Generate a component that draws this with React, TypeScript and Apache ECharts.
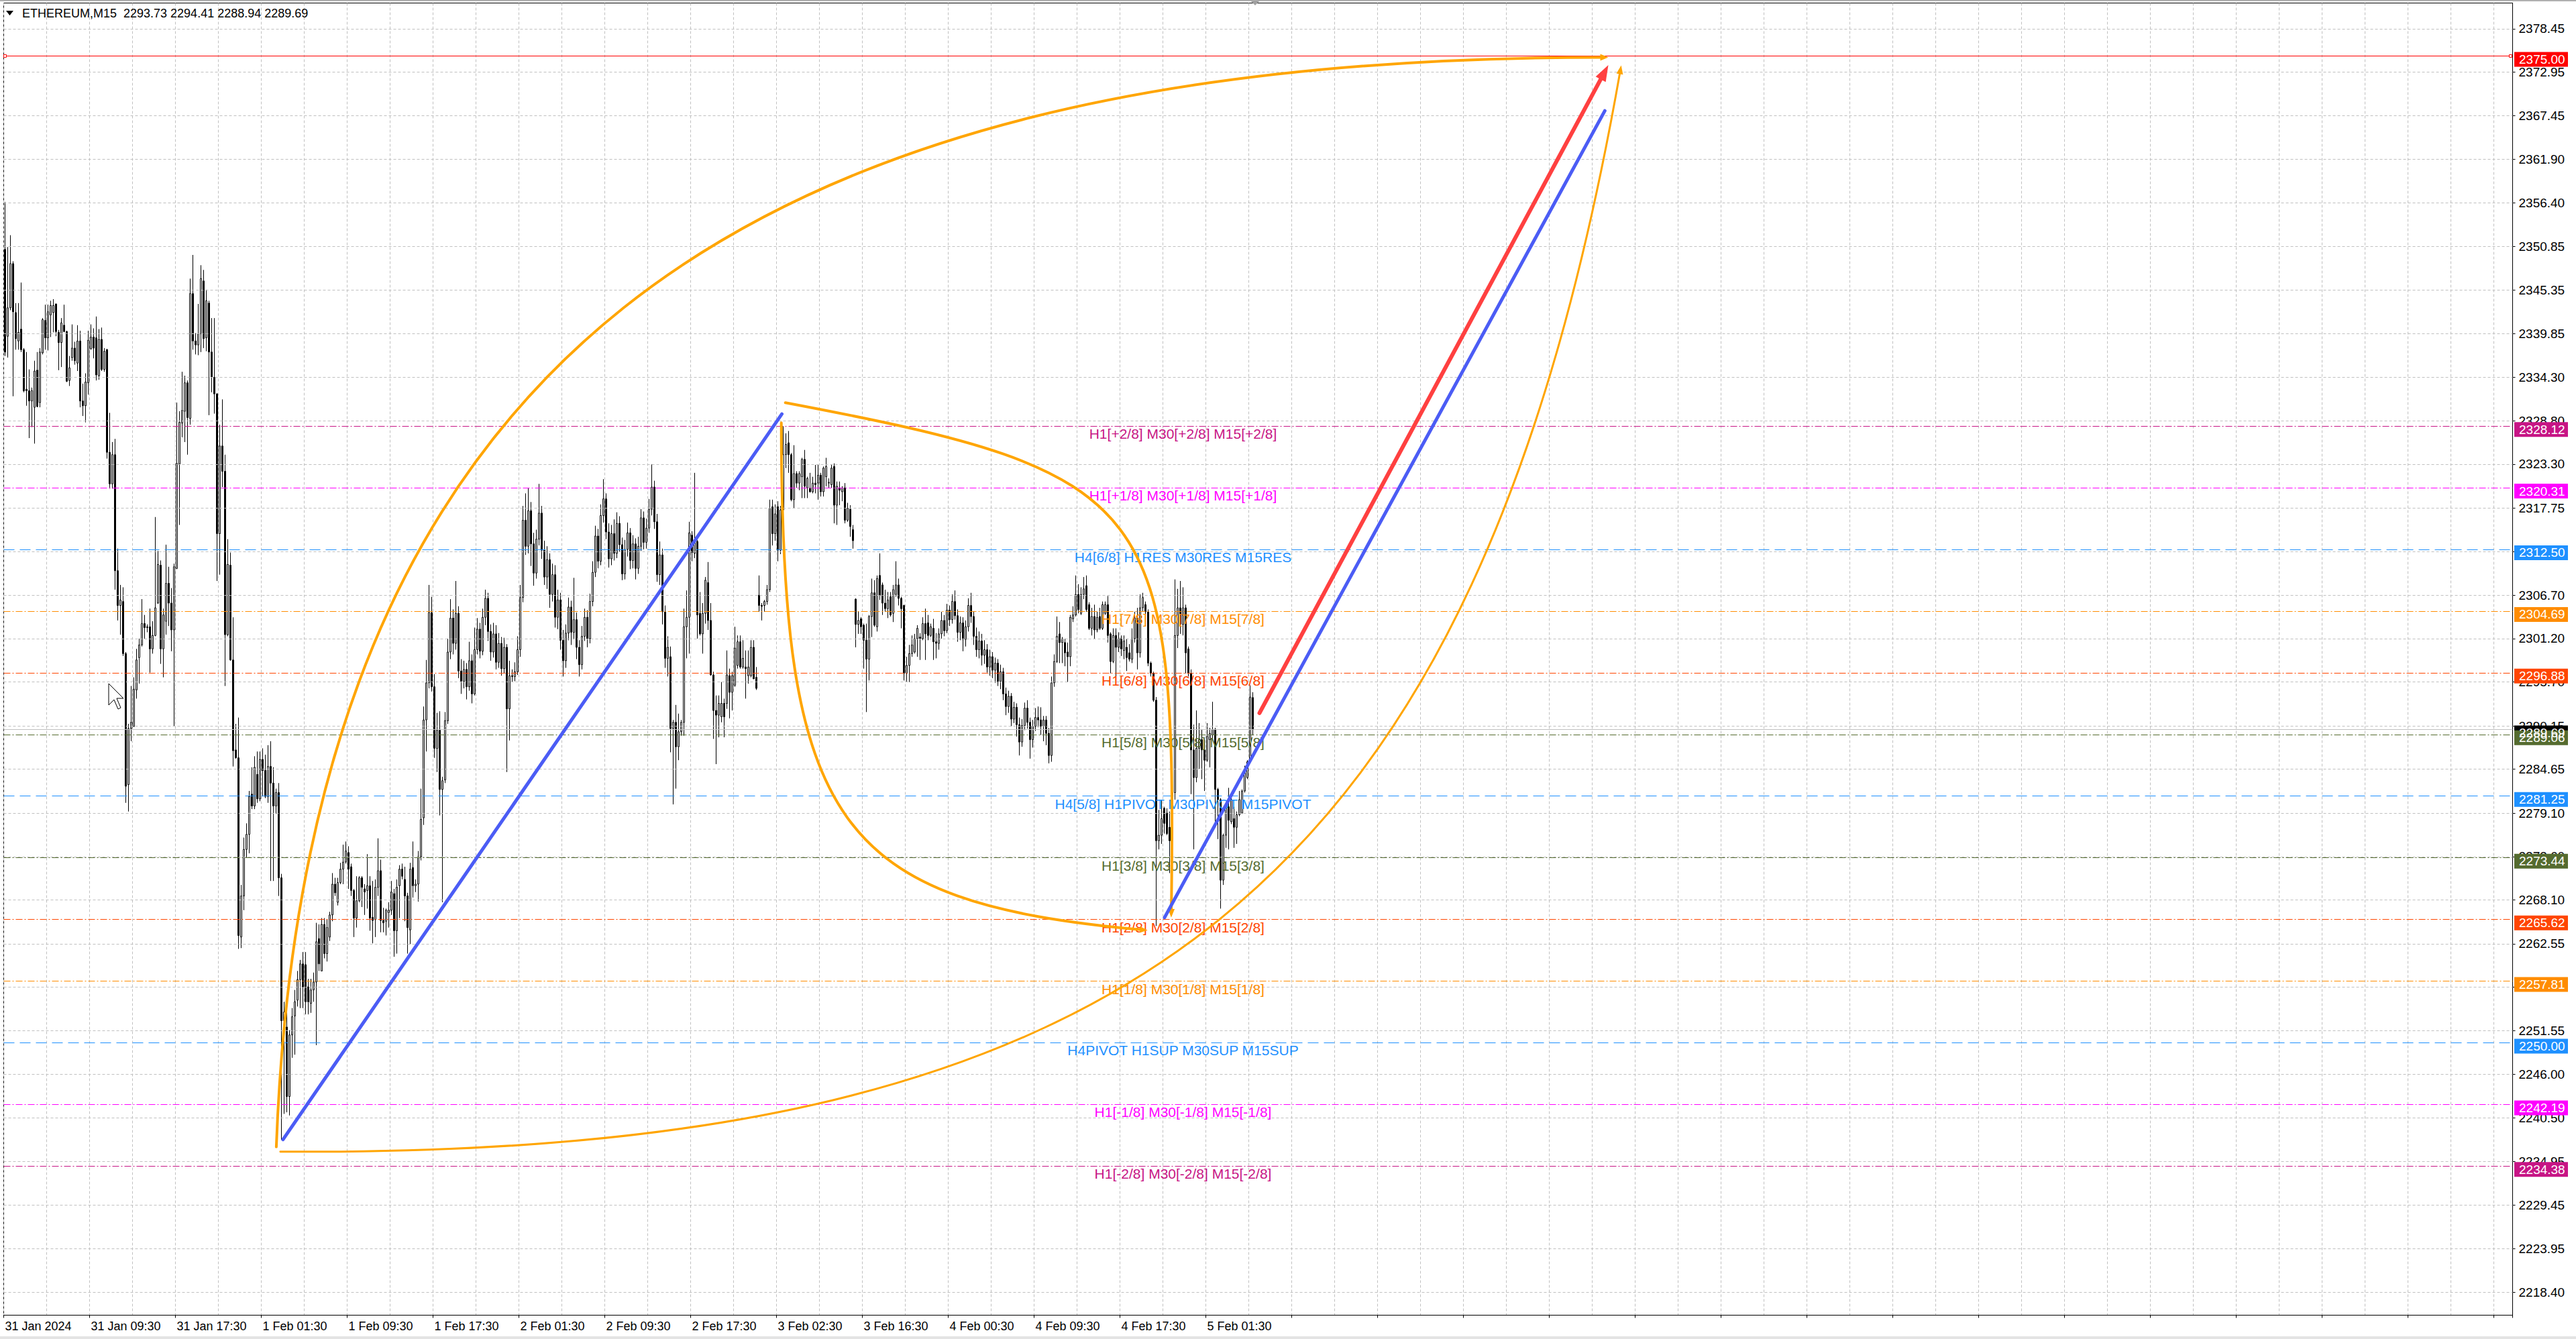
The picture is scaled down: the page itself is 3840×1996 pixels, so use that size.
import React, { useEffect, useRef } from 'react';
import * as echarts from 'echarts';

const FONT = '"Liberation Sans", Arial, sans-serif';
const CHART_W = 3840;
const CHART_H = 1996;
const GRID = { left: 5.5, right: 94.5, top: 4.5, bottom: 35.5 };
const SLOT_COUNT = 935;
const Y_MIN = 2215.5;
const Y_MAX = 2381.71;

const chartTitle = 'ETHEREUM,M15';
const xTickLabels = ['31 Jan 2024', '31 Jan 09:30', '31 Jan 17:30', '1 Feb 01:30', '1 Feb 09:30', '1 Feb 17:30', '2 Feb 01:30', '2 Feb 09:30', '2 Feb 17:30', '3 Feb 02:30', '3 Feb 16:30', '4 Feb 00:30', '4 Feb 09:30', '4 Feb 17:30', '5 Feb 01:30'];
const X_LABEL_STEP = 32;
const X_GRID_STEP = 16;
const yTickValues = [2378.45, 2372.95, 2367.45, 2361.9, 2356.4, 2350.85, 2345.35, 2339.85, 2334.3, 2328.8, 2323.3, 2317.75, 2312.25, 2306.7, 2301.2, 2295.7, 2290.15, 2284.65, 2279.1, 2273.6, 2268.1, 2262.55, 2257.05, 2251.55, 2246.0, 2240.5, 2234.95, 2229.45, 2223.95, 2218.4];

const levelPrices = [2328.12, 2320.31, 2312.5, 2304.69, 2296.88, 2289.06, 2281.25, 2273.44, 2265.62, 2257.81, 2250.0, 2242.19, 2234.38];
const levelColors = ['#C71585', '#FF00FF', '#1E90FF', '#FF8C00', '#FF4500', '#556B2F', '#1E90FF', '#556B2F', '#FF4500', '#FF8C00', '#1E90FF', '#FF00FF', '#C71585'];
const levelDashed = [false, false, true, false, false, false, true, false, false, false, true, false, false];
const levelTexts = ['H1[+2/8] M30[+2/8] M15[+2/8]', 'H1[+1/8] M30[+1/8] M15[+1/8]', 'H4[6/8] H1RES M30RES M15RES', 'H1[7/8] M30[7/8] M15[7/8]', 'H1[6/8] M30[6/8] M15[6/8]', 'H1[5/8] M30[5/8] M15[5/8]', 'H4[5/8] H1PIVOT M30PIVOT M15PIVOT', 'H1[3/8] M30[3/8] M15[3/8]', 'H1[2/8] M30[2/8] M15[2/8]', 'H1[1/8] M30[1/8] M15[1/8]', 'H4PIVOT H1SUP M30SUP M15SUP', 'H1[-1/8] M30[-1/8] M15[-1/8]', 'H1[-2/8] M30[-2/8] M15[-2/8]'];
const levelTextBar = 439;
const targetPrice = 2375.0;
const bidPrice = 2289.69;

// [open, high, low, close]
const barsJan31 = [
  [2350.5, 2356.5, 2337.0, 2337.5], [2339.5, 2350.8, 2336.8, 2343.1], [2343.1, 2352.3, 2342.8, 2348.7], [2348.7, 2349.0, 2331.9, 2342.6], [2342.5, 2343.7, 2337.8, 2339.2],
  [2338.9, 2343.7, 2337.8, 2340.0], [2340.4, 2346.3, 2337.5, 2337.8], [2337.8, 2338.0, 2332.4, 2332.6], [2332.8, 2337.5, 2330.7, 2332.6], [2332.6, 2335.3, 2326.6, 2331.3],
  [2331.3, 2333.0, 2328.0, 2332.6], [2330.5, 2336.4, 2325.9, 2335.1], [2335.2, 2337.5, 2330.5, 2330.6], [2331.1, 2338.0, 2330.5, 2337.5], [2337.4, 2341.8, 2337.2, 2341.6],
  [2341.5, 2343.5, 2337.8, 2339.3], [2339.3, 2343.5, 2337.7, 2342.6], [2342.2, 2344.0, 2339.4, 2343.4], [2342.5, 2344.2, 2340.0, 2343.4], [2343.6, 2343.6, 2339.5, 2340.1],
  [2340.0, 2340.3, 2335.2, 2338.7], [2338.7, 2341.8, 2335.6, 2341.2], [2340.9, 2343.5, 2340.0, 2340.1], [2340.1, 2340.2, 2333.7, 2333.8], [2333.9, 2337.0, 2333.2, 2335.5],
  [2336.8, 2341.0, 2336.4, 2338.0], [2338.0, 2338.8, 2335.9, 2336.4], [2336.1, 2340.9, 2335.1, 2338.9], [2338.9, 2340.2, 2330.5, 2331.3], [2331.3, 2333.5, 2329.4, 2330.7],
  [2330.7, 2334.8, 2328.6, 2333.7], [2333.6, 2340.2, 2332.1, 2339.0], [2337.9, 2341.0, 2337.8, 2339.4], [2339.4, 2340.5, 2336.7, 2338.0], [2339.3, 2342.0, 2333.9, 2334.6],
  [2334.5, 2340.4, 2334.0, 2339.1], [2339.1, 2340.6, 2335.1, 2335.3], [2335.3, 2338.0, 2335.0, 2337.6], [2337.8, 2337.9, 2324.0, 2324.8], [2324.8, 2329.8, 2320.2, 2320.8],
  [2320.8, 2326.1, 2320.2, 2324.5], [2324.5, 2326.5, 2307.4, 2309.8], [2309.8, 2312.6, 2303.5, 2305.4], [2305.4, 2308.0, 2301.7, 2306.1], [2305.9, 2307.7, 2299.0, 2299.3],
  [2299.3, 2299.5, 2280.4, 2282.5], [2282.7, 2290.4, 2279.3, 2289.8], [2289.8, 2295.2, 2288.2, 2290.6], [2290.1, 2296.3, 2290.0, 2294.8], [2294.7, 2299.9, 2293.6, 2298.5],
  [2298.8, 2301.2, 2295.5, 2300.4], [2300.4, 2306.2, 2300.2, 2303.1], [2303.1, 2304.2, 2301.2, 2302.6], [2302.6, 2303.0, 2302.0, 2302.7], [2302.7, 2305.0, 2296.9, 2299.9],
  [2299.9, 2303.4, 2299.3, 2301.6], [2301.6, 2316.6, 2301.5, 2305.1], [2305.7, 2312.3, 2305.6, 2310.6], [2310.5, 2311.1, 2298.0, 2299.9], [2299.9, 2305.0, 2296.3, 2304.2],
  [2303.4, 2313.1, 2301.7, 2308.2], [2308.2, 2310.3, 2302.8, 2305.7], [2305.7, 2307.6, 2299.6, 2302.3], [2302.3, 2310.7, 2290.1, 2310.3], [2310.1, 2331.1, 2310.0, 2323.4],
  [2323.3, 2330.0, 2315.6, 2328.6], [2328.5, 2335.0, 2326.7, 2330.1], [2330.0, 2334.5, 2326.1, 2333.6], [2333.6, 2333.9, 2324.5, 2329.2], [2329.1, 2346.8, 2328.3, 2344.9],
  [2344.9, 2349.8, 2337.8, 2338.9], [2338.9, 2339.9, 2337.2, 2338.4], [2338.4, 2343.6, 2337.1, 2339.8], [2339.8, 2348.5, 2337.5, 2346.8], [2346.5, 2347.9, 2338.0, 2339.2],
  [2339.3, 2345.4, 2337.6, 2344.0], [2343.7, 2344.0, 2329.5, 2337.5], [2337.5, 2341.8, 2332.4, 2334.3], [2334.3, 2341.8, 2329.7, 2332.2], [2332.2, 2332.3, 2308.5, 2314.5],
  [2314.5, 2328.3, 2309.3, 2325.6], [2325.6, 2331.5, 2320.4, 2322.4], [2322.4, 2324.5, 2295.2, 2301.7], [2301.7, 2313.8, 2301.5, 2310.6], [2310.5, 2312.1, 2298.4, 2298.5],
  [2298.5, 2303.9, 2285.0, 2287.0], [2287.1, 2290.4, 2286.0, 2286.1], [2286.1, 2291.2, 2261.9, 2263.6], [2263.4, 2270.0, 2262.0, 2268.6], [2268.6, 2276.0, 2266.8, 2274.5]
];

const barsFeb1 = [
  [2274.5, 2277.8, 2273.5, 2276.4], [2276.4, 2281.9, 2274.0, 2281.2], [2281.5, 2284.9, 2279.6, 2280.0], [2280.0, 2286.3, 2279.6, 2284.9], [2284.0, 2286.9, 2280.4, 2280.9],
  [2280.9, 2286.9, 2280.6, 2285.9], [2285.9, 2287.3, 2281.2, 2284.5], [2284.5, 2286.5, 2281.0, 2281.2], [2281.2, 2287.7, 2280.4, 2285.0], [2285.0, 2288.2, 2270.5, 2282.9],
  [2282.9, 2284.9, 2270.5, 2280.0], [2280.0, 2282.2, 2279.0, 2281.7], [2281.7, 2282.9, 2268.6, 2270.9], [2270.9, 2271.4, 2237.7, 2252.8], [2252.8, 2255.2, 2241.0, 2253.9],
  [2252.0, 2255.2, 2241.2, 2243.2], [2243.2, 2251.6, 2240.8, 2251.0], [2251.0, 2254.4, 2248.1, 2253.3], [2253.4, 2256.7, 2248.5, 2255.2], [2255.4, 2259.1, 2254.6, 2258.0],
  [2258.0, 2260.5, 2254.4, 2260.0], [2260.0, 2261.5, 2254.4, 2257.1], [2259.9, 2261.5, 2253.6, 2255.2], [2257.1, 2258.1, 2253.6, 2255.2], [2255.0, 2258.1, 2253.8, 2256.7],
  [2256.7, 2258.9, 2255.2, 2257.7], [2257.7, 2265.2, 2249.7, 2262.8], [2263.2, 2265.0, 2259.1, 2260.0], [2259.1, 2265.8, 2259.1, 2265.0], [2265.0, 2265.8, 2260.7, 2261.3],
  [2261.3, 2265.6, 2260.3, 2264.6], [2263.4, 2266.6, 2262.9, 2266.2], [2266.2, 2271.5, 2265.4, 2270.1], [2270.1, 2270.9, 2268.6, 2269.0], [2267.8, 2270.9, 2267.4, 2270.3],
  [2270.3, 2272.8, 2270.1, 2272.0], [2272.0, 2275.1, 2270.1, 2272.9], [2272.9, 2275.5, 2272.7, 2274.3], [2274.1, 2274.9, 2269.5, 2272.0], [2272.3, 2272.7, 2268.6, 2269.3],
  [2269.3, 2269.5, 2263.4, 2265.8], [2265.8, 2271.1, 2264.6, 2268.0], [2268.0, 2271.1, 2267.8, 2270.9], [2270.9, 2271.1, 2267.2, 2269.7], [2269.5, 2270.1, 2266.2, 2269.1],
  [2269.3, 2273.9, 2267.0, 2269.9], [2269.9, 2271.1, 2264.2, 2265.8], [2265.9, 2270.5, 2262.6, 2265.5], [2265.6, 2270.7, 2263.4, 2269.7], [2269.7, 2275.9, 2268.6, 2271.8],
  [2271.8, 2273.2, 2264.0, 2265.5], [2265.5, 2267.1, 2264.0, 2265.2], [2265.4, 2267.0, 2263.6, 2266.8], [2266.5, 2267.8, 2264.6, 2266.8], [2266.8, 2270.5, 2266.2, 2269.1],
  [2268.9, 2269.5, 2260.9, 2264.2], [2264.2, 2270.7, 2261.3, 2269.7], [2269.9, 2272.5, 2265.8, 2272.0], [2272.0, 2272.7, 2270.7, 2271.1], [2270.7, 2272.3, 2265.4, 2268.6],
  [2268.6, 2269.0, 2261.3, 2264.6], [2264.3, 2272.8, 2262.5, 2272.0], [2272.2, 2275.5, 2268.4, 2269.9], [2269.9, 2270.7, 2269.1, 2270.1], [2270.1, 2274.3, 2267.9, 2273.6],
  [2273.6, 2282.2, 2273.1, 2278.3], [2278.5, 2292.6, 2277.6, 2290.9], [2290.9, 2298.5, 2286.9, 2295.6], [2295.6, 2308.0, 2294.9, 2304.5], [2304.5, 2306.5, 2294.5, 2295.1],
  [2295.1, 2296.7, 2286.1, 2287.3], [2287.3, 2291.8, 2284.3, 2289.6], [2289.6, 2292.0, 2278.8, 2282.1], [2282.1, 2283.7, 2267.8, 2283.2], [2283.3, 2291.9, 2282.9, 2290.8],
  [2290.8, 2301.2, 2290.4, 2299.5], [2299.5, 2306.2, 2298.6, 2303.8], [2303.8, 2304.9, 2299.2, 2300.6], [2300.6, 2308.5, 2299.8, 2304.4], [2304.4, 2305.3, 2296.2, 2297.1],
  [2297.1, 2298.6, 2294.2, 2295.8], [2295.8, 2298.4, 2294.9, 2297.3], [2297.3, 2298.1, 2293.5, 2295.1], [2295.1, 2300.8, 2294.6, 2298.4], [2298.4, 2299.2, 2293.0, 2294.2],
  [2294.2, 2302.6, 2294.0, 2299.8], [2299.8, 2303.8, 2299.2, 2302.4], [2302.4, 2303.2, 2298.7, 2299.6], [2299.6, 2305.0, 2299.1, 2303.9], [2303.9, 2307.4, 2302.9, 2306.3],
  [2306.3, 2307.0, 2300.9, 2302.1], [2302.1, 2303.0, 2298.4, 2299.5], [2299.5, 2303.2, 2298.8, 2301.8], [2301.8, 2302.9, 2297.3, 2298.2], [2298.2, 2301.9, 2297.5, 2300.6],
  [2300.6, 2301.4, 2296.5, 2297.4]
];

const barsFeb2 = [
  [2297.4, 2301.3, 2296.8, 2300.1], [2300.1, 2300.5, 2284.3, 2292.3], [2292.3, 2298.4, 2288.3, 2296.5], [2296.5, 2297.3, 2295.7, 2296.4], [2296.4, 2298.2, 2295.8, 2297.0],
  [2297.0, 2301.5, 2296.6, 2299.8], [2299.8, 2308.0, 2298.9, 2306.4], [2306.4, 2318.0, 2305.8, 2316.2], [2316.2, 2319.6, 2311.8, 2312.9], [2312.9, 2320.3, 2312.0, 2317.4],
  [2317.4, 2318.5, 2310.4, 2313.2], [2313.2, 2314.6, 2307.9, 2309.5], [2309.5, 2315.0, 2308.8, 2313.8], [2313.8, 2320.8, 2313.0, 2317.1], [2317.1, 2318.0, 2311.3, 2312.4],
  [2312.4, 2313.6, 2308.0, 2309.0], [2309.0, 2312.9, 2307.5, 2311.2], [2311.2, 2312.0, 2305.1, 2306.8], [2306.8, 2310.7, 2305.9, 2309.3], [2309.3, 2310.5, 2302.6, 2303.9],
  [2303.9, 2307.4, 2302.4, 2306.1], [2306.1, 2307.0, 2299.8, 2301.0], [2301.0, 2302.3, 2296.4, 2298.4], [2298.4, 2303.0, 2297.5, 2301.9], [2301.9, 2306.4, 2301.0, 2305.2],
  [2305.2, 2306.0, 2300.4, 2302.0], [2302.0, 2308.9, 2301.1, 2303.6], [2303.6, 2304.5, 2298.6, 2300.1], [2300.1, 2301.0, 2296.4, 2297.9], [2297.9, 2302.8, 2297.3, 2301.5],
  [2301.5, 2305.0, 2300.9, 2303.9], [2303.9, 2304.8, 2300.1, 2301.2], [2301.2, 2306.9, 2300.6, 2305.9], [2305.9, 2311.0, 2305.3, 2309.6], [2309.6, 2315.5, 2309.0, 2314.2],
  [2314.2, 2315.1, 2310.1, 2311.0], [2311.0, 2318.2, 2310.5, 2316.8], [2316.8, 2321.4, 2315.9, 2318.9], [2318.9, 2319.6, 2313.8, 2314.7], [2314.7, 2315.8, 2310.2, 2311.3],
  [2311.3, 2315.6, 2310.5, 2314.5], [2314.5, 2316.3, 2311.1, 2312.0], [2312.0, 2317.2, 2311.4, 2315.8], [2315.8, 2316.7, 2312.2, 2313.1], [2313.1, 2314.0, 2308.6, 2309.4],
  [2309.4, 2313.7, 2308.7, 2312.5], [2312.5, 2315.9, 2311.6, 2314.6], [2314.6, 2315.2, 2310.0, 2311.1], [2311.1, 2314.3, 2310.1, 2313.2], [2313.2, 2313.9, 2308.7, 2310.1],
  [2310.1, 2314.1, 2309.4, 2312.9], [2312.9, 2317.6, 2312.3, 2316.5], [2316.5, 2317.3, 2312.5, 2313.4], [2313.4, 2316.4, 2312.6, 2315.2], [2315.2, 2318.9, 2314.6, 2317.6],
  [2317.6, 2323.3, 2316.8, 2320.4], [2320.4, 2321.2, 2315.1, 2316.0], [2316.0, 2317.0, 2308.4, 2309.3], [2309.3, 2313.5, 2308.0, 2311.8], [2311.8, 2312.6, 2303.0, 2304.6],
  [2304.6, 2305.4, 2297.5, 2298.7], [2298.7, 2301.5, 2296.4, 2300.1], [2298.9, 2300.2, 2286.8, 2289.8], [2289.8, 2290.9, 2280.2, 2290.6], [2290.6, 2292.8, 2282.2, 2287.5],
  [2287.5, 2291.7, 2285.8, 2289.4], [2289.4, 2290.9, 2288.9, 2290.6], [2290.6, 2305.0, 2288.9, 2302.7], [2302.7, 2307.3, 2298.7, 2303.9], [2303.9, 2316.0, 2299.3, 2314.6],
  [2314.3, 2314.8, 2311.0, 2312.1], [2312.0, 2322.2, 2311.4, 2313.5], [2313.5, 2313.7, 2301.2, 2304.2], [2304.4, 2307.1, 2301.6, 2301.8], [2301.8, 2305.7, 2299.3, 2304.4],
  [2304.4, 2309.0, 2303.1, 2308.6], [2308.3, 2310.9, 2302.3, 2303.5], [2303.5, 2305.7, 2296.5, 2296.6], [2296.6, 2297.0, 2288.5, 2292.1], [2292.1, 2294.0, 2285.3, 2291.5],
  [2291.5, 2294.0, 2288.7, 2293.0], [2291.3, 2295.7, 2290.6, 2293.0], [2293.0, 2293.6, 2288.7, 2291.3], [2293.0, 2299.7, 2292.3, 2296.6], [2296.5, 2297.4, 2291.1, 2294.4],
  [2294.4, 2297.0, 2292.1, 2296.5], [2295.3, 2302.7, 2295.1, 2300.0], [2297.8, 2301.6, 2297.4, 2300.8], [2300.8, 2301.6, 2297.4, 2297.6], [2297.6, 2301.0, 2297.4, 2298.7],
  [2297.6, 2299.7, 2293.6, 2297.4], [2296.5, 2299.7, 2295.5, 2297.6], [2296.5, 2301.0, 2296.3, 2300.1], [2300.1, 2301.0, 2296.1, 2296.1], [2296.3, 2297.6, 2294.7, 2294.9],
  [2306.7, 2309.2, 2304.6, 2305.4]
];

const barsFeb3 = [
  [2305.4, 2305.7, 2303.5, 2305.3], [2305.4, 2306.1, 2304.6, 2305.9], [2305.9, 2308.0, 2305.5, 2307.4], [2307.4, 2318.8, 2307.1, 2317.7], [2317.9, 2318.8, 2313.0, 2314.5],
  [2314.5, 2318.2, 2313.6, 2317.0], [2317.9, 2318.6, 2311.0, 2312.4], [2312.4, 2318.0, 2311.9, 2317.5], [2317.5, 2328.1, 2317.3, 2324.5], [2324.5, 2327.2, 2322.8, 2325.8],
  [2326.0, 2327.5, 2322.2, 2324.5], [2324.5, 2324.7, 2318.6, 2318.8], [2318.8, 2325.7, 2317.7, 2322.1], [2322.1, 2322.4, 2320.3, 2320.9], [2320.9, 2322.4, 2320.0, 2322.1],
  [2321.7, 2324.1, 2319.0, 2323.9], [2323.9, 2325.1, 2319.0, 2320.5], [2320.3, 2321.7, 2319.0, 2321.5], [2320.3, 2322.2, 2319.7, 2319.8], [2319.8, 2321.7, 2319.6, 2320.9],
  [2320.9, 2323.2, 2319.6, 2320.7], [2320.9, 2323.2, 2318.8, 2321.9], [2321.9, 2322.2, 2319.2, 2319.8], [2319.8, 2323.0, 2319.2, 2322.8], [2321.7, 2324.1, 2320.5, 2323.0],
  [2320.9, 2321.5, 2320.3, 2321.0], [2320.7, 2323.2, 2320.3, 2322.8], [2323.0, 2323.4, 2315.8, 2318.1], [2318.1, 2321.1, 2315.6, 2320.5], [2320.3, 2321.1, 2318.1, 2320.0],
  [2319.8, 2320.5, 2318.6, 2320.3], [2320.3, 2320.9, 2315.8, 2316.2], [2316.2, 2318.4, 2316.0, 2317.7], [2317.6, 2318.1, 2314.1, 2315.4], [2315.0, 2315.6, 2312.6, 2313.6],
  [2306.2, 2306.3, 2300.1, 2303.0], [2303.0, 2304.6, 2301.8, 2303.5], [2303.7, 2303.9, 2301.8, 2302.7], [2302.9, 2303.1, 2297.4, 2301.0], [2301.0, 2303.1, 2291.9, 2298.6],
  [2298.6, 2304.2, 2295.9, 2304.0], [2304.0, 2308.8, 2301.4, 2307.0], [2307.0, 2308.6, 2302.7, 2302.9], [2302.7, 2309.2, 2302.1, 2308.8], [2309.2, 2312.0, 2306.1, 2306.7],
  [2308.0, 2308.3, 2304.2, 2305.7], [2305.7, 2307.4, 2304.6, 2305.0], [2305.0, 2307.1, 2303.8, 2306.1], [2306.5, 2307.1, 2304.0, 2304.2], [2304.4, 2308.0, 2303.3, 2307.4],
  [2306.8, 2311.0, 2306.5, 2308.0], [2308.0, 2308.8, 2305.4, 2306.3], [2306.3, 2306.5, 2302.5, 2305.0], [2305.4, 2305.5, 2295.9, 2296.8], [2296.8, 2298.9, 2295.7, 2297.8],
  [2297.8, 2300.4, 2295.7, 2299.3], [2299.3, 2301.6, 2298.9, 2300.4], [2299.5, 2301.8, 2299.3, 2301.2], [2301.2, 2302.9, 2298.9, 2302.5], [2301.4, 2301.9, 2298.5, 2301.2],
  [2301.2, 2303.9, 2301.0, 2303.1], [2303.1, 2305.0, 2298.5, 2301.8], [2303.2, 2304.2, 2301.0, 2301.6], [2301.6, 2303.1, 2301.4, 2302.7], [2302.5, 2303.7, 2298.5, 2300.8],
  [2300.8, 2301.9, 2298.7, 2300.6], [2300.6, 2302.5, 2299.8, 2301.8], [2301.8, 2304.6, 2301.2, 2303.5]
];

const barsFeb4 = [
  [2303.5, 2304.2, 2301.5, 2302.2], [2302.2, 2305.6, 2301.9, 2304.8], [2304.8, 2305.4, 2302.8, 2303.6], [2303.6, 2306.8, 2303.1, 2305.9], [2305.9, 2307.3, 2303.6, 2304.1],
  [2304.1, 2304.9, 2300.8, 2302.0], [2302.0, 2304.0, 2301.0, 2303.2], [2303.2, 2303.9, 2299.6, 2301.1], [2301.1, 2303.5, 2300.2, 2302.7], [2302.7, 2306.3, 2302.1, 2305.4],
  [2305.4, 2307.0, 2303.2, 2304.0], [2304.0, 2304.6, 2300.4, 2301.5], [2301.5, 2302.6, 2298.9, 2299.8], [2299.8, 2302.1, 2298.7, 2300.9], [2300.9, 2301.8, 2297.8, 2299.1],
  [2299.1, 2301.0, 2298.0, 2299.8], [2299.8, 2300.5, 2296.9, 2297.6], [2297.6, 2299.8, 2296.5, 2298.9], [2298.9, 2299.5, 2296.2, 2297.2], [2297.2, 2298.8, 2295.6, 2298.1],
  [2298.1, 2298.6, 2295.2, 2295.8], [2295.8, 2297.9, 2294.8, 2297.0], [2297.0, 2297.5, 2293.4, 2294.2], [2294.2, 2295.0, 2291.5, 2292.6], [2292.6, 2294.6, 2291.8, 2293.9],
  [2293.9, 2294.3, 2290.1, 2291.0], [2291.0, 2293.2, 2290.5, 2292.5], [2292.5, 2293.0, 2288.8, 2290.3], [2290.3, 2291.2, 2286.4, 2288.1], [2288.1, 2291.0, 2287.5, 2290.2],
  [2290.2, 2293.1, 2289.6, 2292.4], [2292.4, 2293.4, 2289.8, 2290.6], [2290.6, 2291.2, 2286.0, 2288.4], [2288.4, 2290.9, 2287.4, 2290.1], [2290.1, 2292.4, 2289.5, 2291.2],
  [2291.2, 2292.6, 2290.0, 2290.9], [2290.9, 2292.5, 2289.0, 2290.1], [2290.1, 2291.4, 2288.2, 2290.9], [2290.9, 2291.4, 2287.7, 2289.2], [2289.2, 2289.9, 2285.4, 2286.4],
  [2286.4, 2296.4, 2285.6, 2295.6], [2295.6, 2299.2, 2295.1, 2298.3], [2298.3, 2304.0, 2298.1, 2301.5], [2301.8, 2303.3, 2298.1, 2300.7], [2300.7, 2301.4, 2298.1, 2301.2],
  [2300.7, 2301.2, 2297.7, 2299.4], [2299.5, 2300.7, 2295.7, 2298.9], [2298.9, 2304.2, 2297.7, 2303.9], [2303.7, 2305.3, 2303.3, 2304.2], [2304.2, 2309.2, 2304.0, 2306.8],
  [2306.8, 2308.1, 2304.4, 2304.9], [2304.4, 2307.7, 2304.2, 2306.8], [2306.8, 2309.0, 2306.2, 2307.5], [2307.9, 2309.2, 2304.6, 2304.9], [2305.5, 2305.8, 2302.3, 2302.5],
  [2302.5, 2305.1, 2301.6, 2304.0], [2304.0, 2305.5, 2301.2, 2302.3], [2302.3, 2304.6, 2302.0, 2303.9], [2304.0, 2305.1, 2302.3, 2302.5], [2302.5, 2305.9, 2302.3, 2305.5],
  [2304.4, 2305.9, 2304.2, 2305.5], [2305.5, 2306.6, 2300.7, 2301.6], [2301.8, 2302.0, 2296.8, 2298.3], [2298.3, 2302.5, 2298.1, 2301.6], [2301.6, 2302.5, 2296.4, 2300.1],
  [2300.1, 2302.0, 2299.5, 2301.2], [2301.2, 2301.6, 2299.0, 2299.9], [2299.7, 2301.6, 2298.6, 2300.9], [2300.1, 2301.2, 2297.1, 2298.8], [2299.4, 2300.5, 2298.3, 2298.6],
  [2298.6, 2302.5, 2298.1, 2301.2], [2301.2, 2304.6, 2300.7, 2303.8], [2303.8, 2305.1, 2297.3, 2299.4], [2299.4, 2306.8, 2298.8, 2305.1], [2305.1, 2307.0, 2304.6, 2306.4],
  [2305.5, 2305.9, 2303.3, 2304.6], [2304.6, 2304.9, 2297.7, 2298.1], [2298.1, 2298.3, 2296.4, 2296.8], [2296.8, 2297.0, 2293.2, 2293.4], [2293.4, 2293.8, 2264.8, 2275.6],
  [2275.6, 2279.5, 2274.5, 2276.3], [2276.3, 2280.8, 2275.2, 2278.4], [2279.7, 2279.9, 2276.5, 2277.8], [2279.1, 2279.7, 2276.3, 2276.5], [2277.3, 2279.3, 2271.5, 2275.6],
  [2275.6, 2282.1, 2275.2, 2281.7], [2281.7, 2308.7, 2280.8, 2301.6], [2301.6, 2307.5, 2300.0, 2305.1], [2305.1, 2308.5, 2301.8, 2303.0], [2303.0, 2307.7, 2301.6, 2305.1],
  [2305.1, 2305.5, 2296.8, 2299.4], [2299.9, 2300.2, 2296.4, 2296.8], [2296.8, 2297.3, 2281.5, 2287.1], [2287.1, 2290.3, 2274.5, 2283.6], [2283.6, 2292.1, 2283.0, 2287.3],
  [2287.3, 2290.5, 2284.7, 2288.4], [2288.4, 2289.7, 2283.4, 2287.1], [2287.1, 2288.4, 2281.9, 2285.8]
];

const barsFeb5 = [
  [2285.8, 2290.5, 2285.6, 2288.8], [2288.4, 2289.9, 2284.9, 2289.2], [2289.0, 2293.2, 2288.4, 2289.7], [2289.7, 2289.9, 2277.8, 2282.1], [2282.1, 2282.3, 2275.8, 2280.8],
  [2280.8, 2281.0, 2267.0, 2270.6], [2270.6, 2276.5, 2270.0, 2276.3], [2276.3, 2280.4, 2274.7, 2279.9], [2279.9, 2282.3, 2274.5, 2278.2], [2278.0, 2281.7, 2277.7, 2280.8],
  [2278.4, 2279.9, 2274.7, 2277.3], [2277.3, 2279.3, 2275.2, 2278.9], [2278.9, 2281.9, 2278.7, 2280.8], [2279.1, 2282.1, 2279.1, 2281.9], [2281.9, 2285.1, 2281.7, 2284.3],
  [2283.6, 2285.8, 2283.4, 2285.6], [2285.6, 2295.3, 2285.4, 2293.8], [2293.73, 2294.41, 2288.94, 2289.69]
];

// Drawn objects, anchored as [bar index, price]
const blueTrend1 = [[103.6, 2237.75], [289.5, 2329.65]];
const blueTrend2 = [[432.1, 2265.86], [596.2, 2368.06]];
const redArrow = [[467.5, 2291.77], [597.5, 2373.84]];
const arcTopOuter = [[101.1, 2236.82], [111.9, 2336.19], [270.5, 2374.83], [597.5, 2374.83]];
const arcBottomOuter = [[102.6, 2236.22], [423.6, 2235.37], [548.6, 2269.94], [602.3, 2373.81]];
const arcCupRight = [[290.8, 2331.09], [429.3, 2322.17], [436.8, 2318.78], [434.6, 2265.86]];
const arcCupLeft = [[289.3, 2328.54], [289.3, 2277.41], [309.8, 2267.82], [425.8, 2264.25]];

const allBars = [...barsJan31, ...barsFeb1, ...barsFeb2, ...barsFeb3, ...barsFeb4, ...barsFeb5];
const categories = Array.from({ length: SLOT_COUNT }, (_, i) => String(i));

function buildOption() {
  const dashDot = [10, 3, 2, 3];
  const dashed = [16, 8];
  const levelLines: any[] = levelPrices.map((p, k) => ({
    yAxis: p,
    lineStyle: { color: levelColors[k], width: 1, type: levelDashed[k] ? dashed : dashDot },
  }));
  levelLines.push({ yAxis: targetPrice, lineStyle: { color: '#FF0000', width: 1, type: 'solid' } });
  const bidLine = [{ yAxis: bidPrice, lineStyle: { color: '#C0C0C0', width: 1, type: 'solid' } }];
  return {
    animation: false,
    backgroundColor: '#ffffff',
    grid: { ...GRID, show: true, borderColor: '#000000', borderWidth: 1, backgroundColor: '#ffffff' },
    xAxis: {
      type: 'category',
      data: categories,
      boundaryGap: true,
      axisLine: { show: true, lineStyle: { color: '#000000', width: 1 } },
      axisTick: { show: true, interval: (i: number) => i % X_LABEL_STEP === 0, length: 4, lineStyle: { color: '#000000' } },
      axisLabel: {
        show: true,
        interval: (i: number) => i % X_LABEL_STEP === 0 && i / X_LABEL_STEP < xTickLabels.length,
        formatter: (_v: string, i: number) => xTickLabels[Math.round(i / X_LABEL_STEP)] ?? '',
        align: 'left',
        margin: 7,
        fontSize: 18,
        color: '#000000',
        fontFamily: FONT,
      },
      splitLine: { show: true, interval: (i: number) => i % X_GRID_STEP === 0, lineStyle: { color: '#C0C0C0', type: [4, 3], width: 1 } },
    },
    yAxis: {
      type: 'value',
      position: 'right',
      min: Y_MIN,
      max: Y_MAX,
      scale: true,
      axisLine: { show: true, lineStyle: { color: '#000000' } },
      axisTick: { show: true, customValues: yTickValues, length: 4, lineStyle: { color: '#000000' } },
      axisLabel: { show: true, customValues: yTickValues, formatter: (v: number) => v.toFixed(2), margin: 9, fontSize: 19, color: '#000000', fontFamily: FONT },
      splitLine: { show: false },
    },
    series: [
      {
        type: 'line', data: [], z: 1, silent: true,
        markLine: { silent: true, symbol: ['none', 'none'], label: { show: false }, animation: false,
          lineStyle: { color: '#C0C0C0', type: [4, 3], width: 1 },
          data: yTickValues.map((v) => ({ yAxis: v })) },
      },
      {
        type: 'line', data: [], z: 1, silent: true,
        markLine: { silent: true, symbol: ['none', 'none'], label: { show: false }, animation: false, data: bidLine },
      },
      {
        type: 'candlestick',
        z: 2,
        barWidth: 3,
        large: false,
        silent: true,
        data: allBars.map(([o, h, l, c]) => [o, c, l, h]),
        itemStyle: { color: '#FFFFFF', color0: '#000000', borderColor: '#000000', borderColor0: '#000000', borderColorDoji: '#000000', borderWidth: 1 },
      },
      {
        type: 'line', data: [], z: 3, silent: true,
        markLine: { silent: true, symbol: ['none', 'none'], label: { show: false }, animation: false, data: levelLines },
      },
    ],
  };
}

function textEl(x: number, y: number, text: string, font: string, fill: string, align: string, z: number) {
  return {
    type: 'text', x, y, z, silent: true,
    style: { text, font, fill, align, verticalAlign: 'middle', textAlign: align, textVerticalAlign: 'middle' },
  };
}

export default function App() {
  const ref = useRef<HTMLDivElement>(null);
  useEffect(() => {
    if (!ref.current) return;
    document.body.style.margin = '0';
    const chart = echarts.init(ref.current, null, { renderer: 'svg', width: CHART_W, height: CHART_H });
    chart.setOption(buildOption() as any);

    const xa = chart.convertToPixel({ xAxisIndex: 0 }, 0) as number;
    const xb = chart.convertToPixel({ xAxisIndex: 0 }, 100) as number;
    const xPx = (b: number) => xa + ((xb - xa) * b) / 100;
    const yPx = (p: number) => chart.convertToPixel({ yAxisIndex: 0 }, p) as number;
    const pt = (d: number[]) => [xPx(d[0]), yPx(d[1])];
    const plotRight = CHART_W - GRID.right;
    const els: any[] = [];

    // header
    const last = allBars[allBars.length - 1];
    els.push({ type: 'polygon', z: 50, silent: true, shape: { points: [[9, 16], [20, 16], [14.5, 23]] }, style: { fill: '#000000' } });
    els.push(textEl(33, 20, `${chartTitle}  ${last[0].toFixed(2)} ${last[1].toFixed(2)} ${last[2].toFixed(2)} ${last[3].toFixed(2)}`, `18px ${FONT}`, '#000000', 'left', 50));
    // chart shift marker
    els.push({ type: 'polygon', z: 50, silent: true, shape: { points: [[1864, 1], [1878, 1], [1871, 8]] }, style: { fill: '#A0A0A0' } });

    // target line end markers
    const yT = yPx(targetPrice);
    els.push({ type: 'rect', z: 20, silent: true, shape: { x: GRID.left, y: yT - 2, width: 4, height: 4 }, style: { fill: '#FFFFFF', stroke: '#FF0000', lineWidth: 1 } });
    els.push({ type: 'rect', z: 20, silent: true, shape: { x: plotRight - 5, y: yT - 2, width: 4, height: 4 }, style: { fill: '#FFFFFF', stroke: '#FF0000', lineWidth: 1 } });

    // level annotations
    const tx = xPx(levelTextBar);
    levelPrices.forEach((p, k) => {
      els.push(textEl(tx, yPx(p) + 11.5, levelTexts[k], `21px ${FONT}`, levelColors[k], 'center', 25));
    });

    // price boxes on the scale
    const boxes: [number, string][] = [[targetPrice, '#FF0000'], [bidPrice, '#000000']];
    levelPrices.forEach((p, k) => boxes.push([p, levelColors[k]]));
    boxes.forEach(([p, c]) => {
      const y = yPx(p);
      els.push({ type: 'rect', z: 60, silent: true, shape: { x: plotRight + 2.5, y: y - 6, width: 80, height: 22 }, style: { fill: c } });
      els.push(textEl(plotRight + 9.5, y + 5, p.toFixed(2), `19px ${FONT}`, '#FFFFFF', 'left', 61));
    });

    // arrowheads and curves
    const head = (tip: number[], from: number[], len: number, half: number, color: string) => {
      const dx = tip[0] - from[0];
      const dy = tip[1] - from[1];
      const d = Math.hypot(dx, dy) || 1;
      const ux = dx / d, uy = dy / d;
      const bx = tip[0] - ux * len, by = tip[1] - uy * len;
      return {
        base: [tip[0] - ux * len * 0.7, tip[1] - uy * len * 0.7],
        el: { type: 'polygon', z: 41, silent: true, shape: { points: [tip, [bx - uy * half, by + ux * half], [bx + uy * half, by - ux * half]] }, style: { fill: color } },
      };
    };
    const orange = '#FFA500';
    const curve = (pts: number[][], width: number, len: number, half: number) => {
      const [p0, c1, c2, p3] = pts.map(pt);
      const h = head(p3, c2, len, half, orange);
      els.push({ type: 'bezierCurve', z: 40, silent: true,
        shape: { x1: p0[0], y1: p0[1], cpx1: c1[0], cpy1: c1[1], cpx2: c2[0], cpy2: c2[1], x2: h.base[0], y2: h.base[1] },
        style: { stroke: orange, lineWidth: width, fill: null, lineCap: 'round' } });
      els.push(h.el);
    };
    curve(arcTopOuter, 4, 12, 5);
    curve(arcBottomOuter, 3, 13, 5);
    curve(arcCupRight, 4, 13, 5);
    curve(arcCupLeft, 4, 11, 4.5);

    const blue = '#4B5CF5';
    [blueTrend1, blueTrend2].forEach((ln) => {
      const a = pt(ln[0]);
      const b = pt(ln[1]);
      els.push({ type: 'line', z: 42, silent: true, shape: { x1: a[0], y1: a[1], x2: b[0], y2: b[1] }, style: { stroke: blue, lineWidth: 5, lineCap: 'round' } });
    });
    {
      const a = pt(redArrow[0]);
      const b = pt(redArrow[1]);
      const h = head(b, a, 24, 8.5, '#FF4040');
      els.push({ type: 'line', z: 42, silent: true, shape: { x1: a[0], y1: a[1], x2: h.base[0], y2: h.base[1] }, style: { stroke: '#FF4040', lineWidth: 6, lineCap: 'round' } });
      els.push({ ...h.el, z: 43 });
    }

    // mouse cursor
    const cx = 162, cy = 1019;
    const cursorPts = [[0, 0], [0, 32], [8, 24], [14, 38], [18, 36], [12, 22], [22, 22]].map(([x, y]) => [cx + x, cy + y]);
    els.push({ type: 'polygon', z: 70, silent: true, shape: { points: cursorPts }, style: { fill: '#FFFFFF', stroke: '#000000', lineWidth: 1 } });

    // window frame strips
    els.push({ type: 'rect', z: 0, silent: true, shape: { x: 0, y: 0, width: CHART_W, height: 2 }, style: { fill: '#B0B0B0' } });
    els.push({ type: 'rect', z: 0, silent: true, shape: { x: 0, y: CHART_H - 4, width: CHART_W, height: 4 }, style: { fill: '#E4E4E4' } });

    chart.setOption({ graphic: { elements: els } } as any);
    return () => chart.dispose();
  }, []);
  return <div ref={ref} style={{ position: 'fixed', left: 0, top: 0, width: CHART_W, height: CHART_H, background: '#ffffff' }} />;
}
